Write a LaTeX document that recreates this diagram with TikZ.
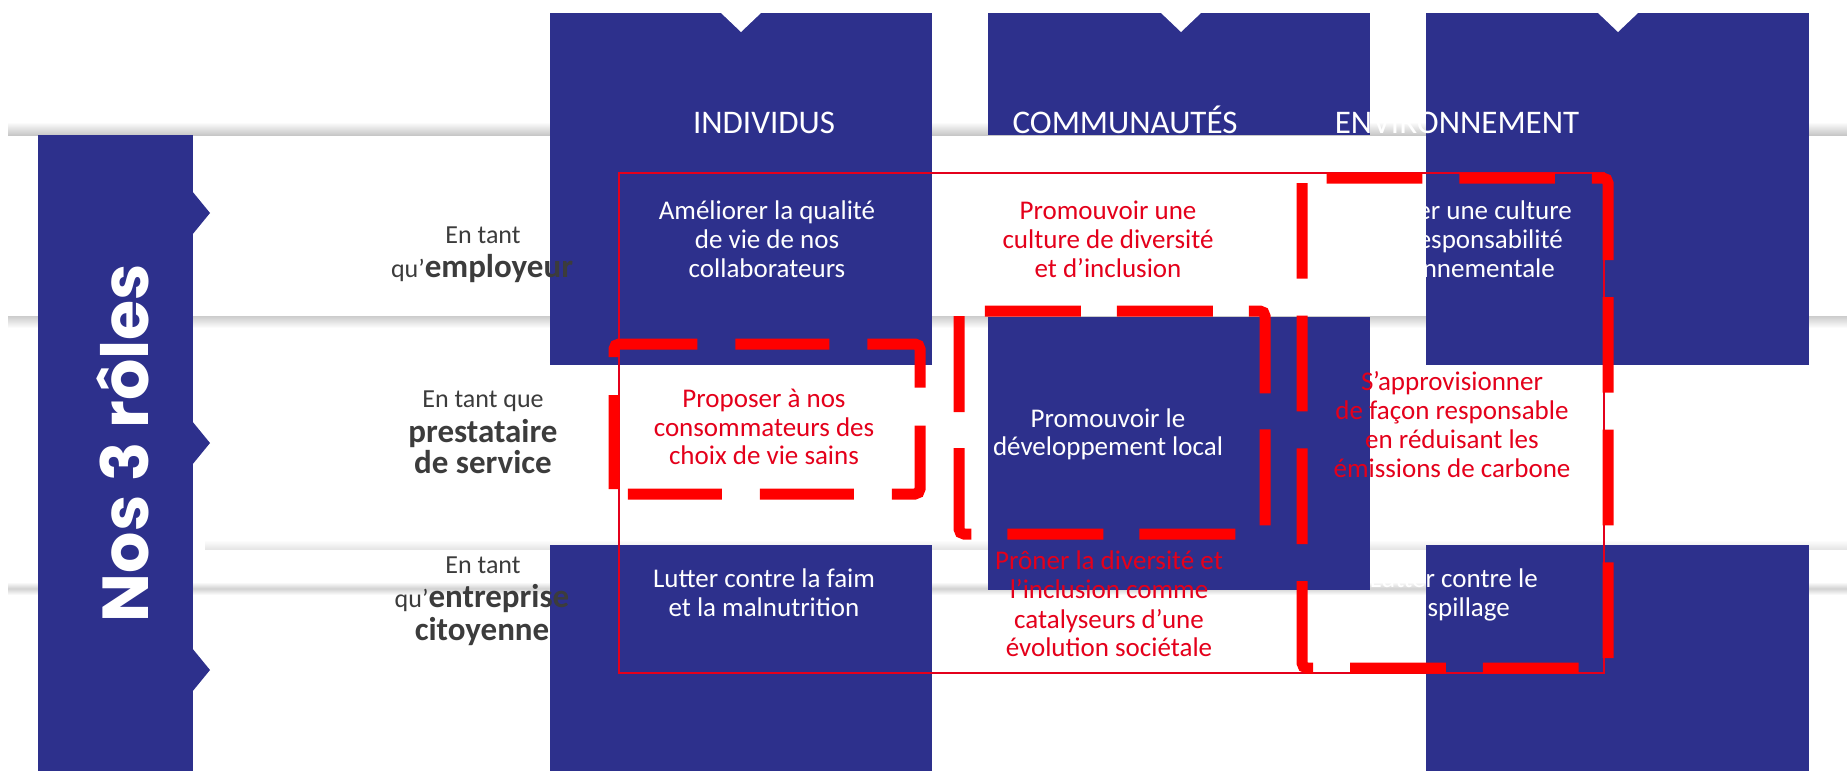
\documentclass[tikz,border=0pt]{standalone}
\usepackage{fontspec}
\setmainfont{Carlito}
\newfontfamily\poppins{Poppins}
\definecolor{sodexoblue}{RGB}{45,48,140}
\definecolor{txtred}{RGB}{228,0,27}
\definecolor{dashred}{RGB}{255,0,0}
\definecolor{labelgrey}{RGB}{60,60,60}
\tikzset{
  coltitle/.style={text=white, font=\fontsize{33}{36}\selectfont, inner sep=0pt, anchor=base},
  cw/.style={text=white, font=\fontsize{27}{29}\selectfont, inner sep=0pt, anchor=base},
  cr/.style={text=txtred, font=\fontsize{27}{29}\selectfont, inner sep=0pt, anchor=base},
  lab/.style={text=labelgrey, font=\fontsize{26}{28}\selectfont, inner sep=0pt, anchor=base},
  thinbox/.style={draw=txtred, line width=2pt},
  dashbox/.style={draw=dashred, line width=11pt, rounded corners=5pt},
  bluefill/.style={fill=sodexoblue}
}
\newcommand{\bigb}[1]{{\fontsize{33}{36}\selectfont\bfseries #1}}
\begin{document}
\begin{tikzpicture}[x=1pt,y=-1pt]
\useasboundingbox (0,0) rectangle (1847,771);
\fill[white] (0,0) rectangle (1847,771);

% soft shadow lines of the horizontal strips
\shade[top color=white, bottom color=black!22] (8,122) rectangle (1847,135);
\shade[top color=black!20, bottom color=white] (8,316) rectangle (1847,328);
\shade[top color=white, bottom color=black!10] (205,540) rectangle (1847,549);
\shade[top color=white, bottom color=white, middle color=black!18] (8,582) rectangle (1847,595);

% columns (woven)
\fill[bluefill] (550,13) rectangle (932,365);
\fill[bluefill] (550,545) rectangle (932,771);
\fill[bluefill] (988,13) rectangle (1370,135);
\fill[bluefill] (988,317) rectangle (1370,590);
\fill[bluefill] (1426,13) rectangle (1809,365);
\fill[bluefill] (1426,545) rectangle (1809,771);
% top notches
\fill[white] (720,12) -- (762,12) -- (741,32) -- cycle;
\fill[white] (1160,12) -- (1202,12) -- (1181,32) -- cycle;
\fill[white] (1597,12) -- (1639,12) -- (1618,32) -- cycle;

% left bar with chevrons
\fill[bluefill] (38,135) rectangle (193,771);
\fill[bluefill] (192,191) -- (210,213) -- (192,235) -- cycle;
\fill[bluefill] (192,421) -- (210,443) -- (192,465) -- cycle;
\fill[bluefill] (192,648) -- (210,670) -- (192,692) -- cycle;
\node[rotate=90, anchor=base, text=white, inner sep=0pt,
      font=\poppins\bfseries\fontsize{65}{70}\selectfont] (roles) at (148,443) {Nos 3 rôles};

% column titles
\node[coltitle] (tInd) at (764,133) {INDIVIDUS};
\node[coltitle] (tCom) at (1125,133) {COMMUNAUTÉS};
\node[coltitle] (tEnv) at (1457,133) {ENVIRONNEMENT};

% row labels
\node[lab] (l1a) at (483,243) {En tant};
\node[lab] (l1b) at (482,277) {qu’\bigb{employeur}};
\node[lab] (l2a) at (483,407) {En tant que};
\node[lab] (l2b) at (483,442) {\bigb{prestataire}};
\node[lab] (l2c) at (483,473) {\bigb{de service}};
\node[lab] (l3a) at (483,573) {En tant};
\node[lab] (l3b) at (482,607) {qu’\bigb{entreprise}};
\node[lab] (l3c) at (482,640) {\bigb{citoyenne}};

% row 1 cells
\node[cw] (c11a) at (767,219) {Améliorer la qualité};
\node[cw] (c11b) at (767,248) {de vie de nos};
\node[cw] (c11c) at (767,277) {collaborateurs};
\node[cr] (c12a) at (1108,219) {Promouvoir une};
\node[cr] (c12b) at (1108,248) {culture de diversité};
\node[cr] (c12c) at (1108,277) {et d’inclusion};
\node[cw, anchor=base east] (c13a) at (1572,219) {Développer une culture};
\node[cw, anchor=base east] (c13b) at (1563,248) {de responsabilité};
\node[cw, anchor=base east] (c13c) at (1555,277) {environnementale};

% row 2 cells
\node[cr] (c21a) at (764,407) {Proposer à nos};
\node[cr] (c21b) at (764,436) {consommateurs des};
\node[cr] (c21c) at (764,464) {choix de vie sains};
\node[cw] (c22a) at (1108,427) {Promouvoir le};
\node[cw] (c22b) at (1108,455) {développement local};
\node[cr] (c23a) at (1452,390) {S’approvisionner};
\node[cr] (c23b) at (1452,419) {de façon responsable};
\node[cr] (c23c) at (1452,448) {en réduisant les};
\node[cr] (c23d) at (1452,477) {émissions de carbone};

% row 3 cells
\node[cw] (c31a) at (764,587) {Lutter contre la faim};
\node[cw] (c31b) at (764,616) {et la malnutrition};
\node[cr] (c32a) at (1109,569) {Prôner la diversité et};
\node[cr] (c32b) at (1109,598) {l’inclusion comme};
\node[cr] (c32c) at (1109,628) {catalyseurs d’une};
\node[cr] (c32d) at (1109,656) {évolution sociétale};
\node[cw, anchor=base east] (c33a) at (1538,587) {Lutter contre le};
\node[cw, anchor=base east] (c33b) at (1510,616) {gaspillage};

% red annotations
\draw[thinbox] (619,173) rectangle (1604,673);
\draw[dashbox, dash pattern=on 94pt off 38pt] (614,494) -- (614,344) -- (920,344) -- (920,494) -- cycle;
\draw[dashbox, dash pattern=on 96pt off 36pt] (959,311) -- (959,534) -- (1265,534) -- (1265,311) -- cycle;
\draw[dashbox, dash pattern=on 95.7pt off 37pt] (1302,178) -- (1302,668) -- (1608,668) -- (1608,178) -- cycle;
\end{tikzpicture}
\end{document}
